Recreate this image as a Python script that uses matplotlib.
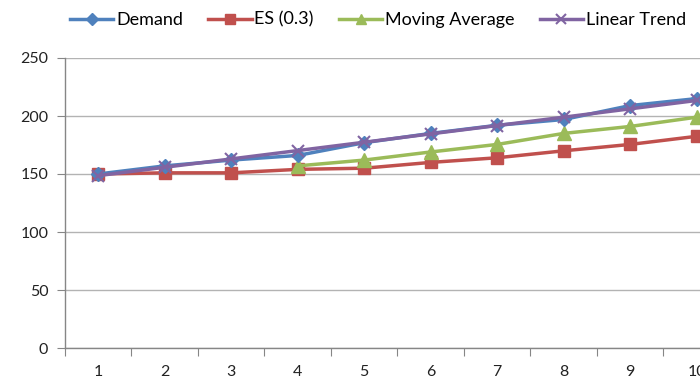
import numpy as np
from matplotlib import pyplot as plt

periods = [1, 2, 3, 4, 5, 6, 7, 8, 9, 10]
demand = [150, 157, 162, 166, 177, 185, 192, 197, 209, 215]
es_03 = [150, 151, 151, 154, 155, 160, 164, 170, 175.5, 182.5]
ma_periods = [4, 5, 6, 7, 8, 9, 10]
moving_avg = [157, 162, 169, 175.5, 185, 191, 199]
linear_trend = [148.6, 155.8, 163.0, 170.2, 177.4, 184.6, 191.8, 199.0, 206.2, 213.4]
y_ticks = [0, 50, 100, 150, 200, 250]

plt.rcParams['font.family'] = ['Lato', 'DejaVu Sans']

fig = plt.figure(figsize=(7, 3.8), dpi=100)
# axes run past the right edge, like the cropped original
ax = fig.add_axes([65/700, 32/380, 665/700, 290/380])

lw = 2.5
ax.plot(periods, demand, color='#4F81BD', lw=lw, marker='D', ms=7.5, label='Demand', zorder=5)
ax.plot(periods, es_03, color='#C0504D', lw=lw, marker='s', ms=9, label='ES (0.3)', zorder=3)
ax.plot(ma_periods, moving_avg, color='#9BBB59', lw=lw, marker='^', ms=10, label='Moving Average', zorder=4)
ax.plot(periods, linear_trend, color='#8064A2', lw=lw, marker='x', ms=9, mew=1.5, label='Linear Trend', zorder=6)

ax.set_xlim(0.5, 10.5)
ax.set_ylim(0, 250)
ax.set_yticks(y_ticks)
ax.yaxis.grid(True, color='#b3b3b3', lw=1)
ax.set_axisbelow(True)

# category axis: ticks between categories, labels at centres
ax.set_xticks(np.arange(0.5, 11, 1))
ax.set_xticklabels([])
ax.set_xticks(periods, minor=True)
ax.set_xticklabels([str(p) for p in periods], minor=True)
ax.tick_params(axis='x', which='major', length=6, color='#868686', direction='out')
ax.tick_params(axis='x', which='minor', length=0, pad=12, labelsize=11.5, labelcolor='#222222')
ax.tick_params(axis='y', length=6, color='#868686', labelsize=11.5, labelcolor='#222222', pad=6)

for s in ['top', 'right']:
    ax.spines[s].set_visible(False)
for s in ['left', 'bottom']:
    ax.spines[s].set_color('#868686')
    ax.spines[s].set_linewidth(1)

fig.legend(loc='center', bbox_to_anchor=(0.54, 0.948), ncol=4, frameon=False,
           fontsize=13, handlelength=2.4, columnspacing=1.4, handletextpad=0.15,
           markerscale=0.75)

fig.savefig('out.png', dpi=100)
